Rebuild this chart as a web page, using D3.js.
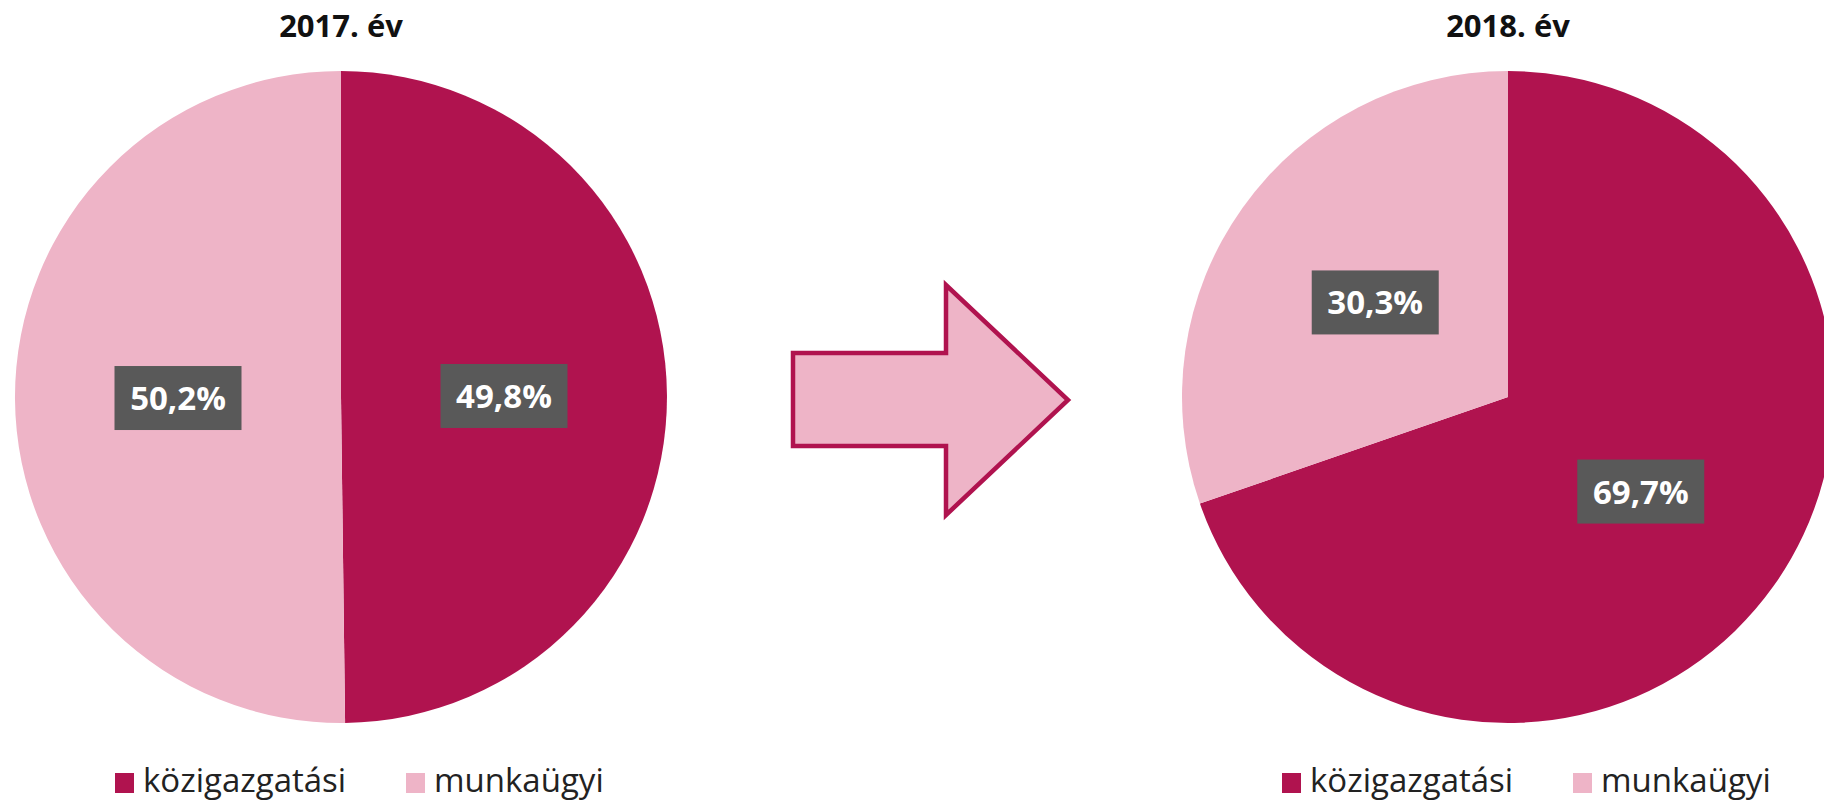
<!DOCTYPE html>
<html>
<head>
<meta charset="utf-8">
<script src="https://cdn.jsdelivr.net/npm/d3@7"></script>
<style>
  html, body { margin: 0; padding: 0; background: #fff; }
  svg { display: block; }
</style>
</head>
<body>
<svg id="chart" width="1824" height="801"></svg>
<script>
// data
const years = ['2017. év', '2018. év']
const categories = ['közigazgatási', 'munkaügyi']
const shares2017 = [49.8, 50.2]
const shares2018 = [69.7, 30.3]
const seriesByYear = [shares2017, shares2018]

const crimson = '#b0134f'
const pink = '#eeb4c7'
const labelGrey = '#595959'
const colour = d3.scaleOrdinal().domain(categories).range([crimson, pink])

const huLocale = d3.formatLocale({ decimal: ',', thousands: ' ', grouping: [3], currency: ['', ' Ft'] })
const fmt = huLocale.format('.1f')

const svg = d3.select('#chart')
const radius = 326
const cy = 397
const centres = d3.scalePoint().domain(years).range([341, 1508])

const pie = d3.pie().sort(null).value(d => d.value)
const arc = d3.arc().innerRadius(0).outerRadius(radius)

years.forEach((year, yi) => {
  const cx = centres(year)
  const data = categories.map((c, i) => ({ cat: c, value: seriesByYear[yi][i] }))
  const g = svg.append('g').attr('transform', `translate(${cx},${cy})`)

  // slices
  g.selectAll('path.slice')
    .data(pie(data))
    .join('path')
      .attr('class', 'slice')
      .attr('d', arc)
      .attr('fill', d => colour(d.data.cat))

  // value labels (dark boxes at the slice centroids)
  const lab = g.selectAll('g.lab')
    .data(pie(data))
    .join('g')
      .attr('class', 'lab')
      .attr('transform', d => `translate(${arc.centroid(d)})`)

  lab.append('rect')
    .attr('x', -63.5)
    .attr('y', -32)
    .attr('width', 127)
    .attr('height', 64)
    .attr('fill', labelGrey)

  lab.append('text')
    .attr('text-anchor', 'middle')
    .attr('y', 12)
    .attr('font-family', '"Open Sans", sans-serif')
    .attr('font-weight', 'bold')
    .attr('font-size', 33)
    .attr('fill', '#fff')
    .text(d => fmt(d.data.value) + '%')

  // title
  svg.append('text')
    .attr('x', cx)
    .attr('y', 37)
    .attr('text-anchor', 'middle')
    .attr('font-family', '"Open Sans", sans-serif')
    .attr('font-weight', 'bold')
    .attr('font-size', 31)
    .attr('fill', '#111')
    .text(year)
})

// legends, one under each pie
const legendX = [[115, 406], [1282, 1573]]
legendX.forEach(xs => {
  categories.forEach((c, i) => {
    svg.append('rect')
      .attr('x', xs[i])
      .attr('y', 773)
      .attr('width', 19)
      .attr('height', 20)
      .attr('fill', colour(c))
    svg.append('text')
      .attr('x', xs[i] + 28)
      .attr('y', 792)
      .attr('font-family', '"Open Sans", sans-serif')
      .attr('font-size', 33)
      .attr('fill', '#222')
      .text(c)
  })
})

// arrow between the two pies
const ax = 793, ay = 400
const arrow = d3.path()
arrow.moveTo(ax, ay - 47)
arrow.lineTo(ax + 153, ay - 47)
arrow.lineTo(ax + 153, ay - 115)
arrow.lineTo(ax + 275, ay)
arrow.lineTo(ax + 153, ay + 115)
arrow.lineTo(ax + 153, ay + 46)
arrow.lineTo(ax, ay + 46)
arrow.closePath()

svg.append('path')
  .attr('d', arrow.toString())
  .attr('fill', pink)
  .attr('stroke', crimson)
  .attr('stroke-width', 4.5)
  .attr('stroke-linejoin', 'miter')
</script>
</body>
</html>
